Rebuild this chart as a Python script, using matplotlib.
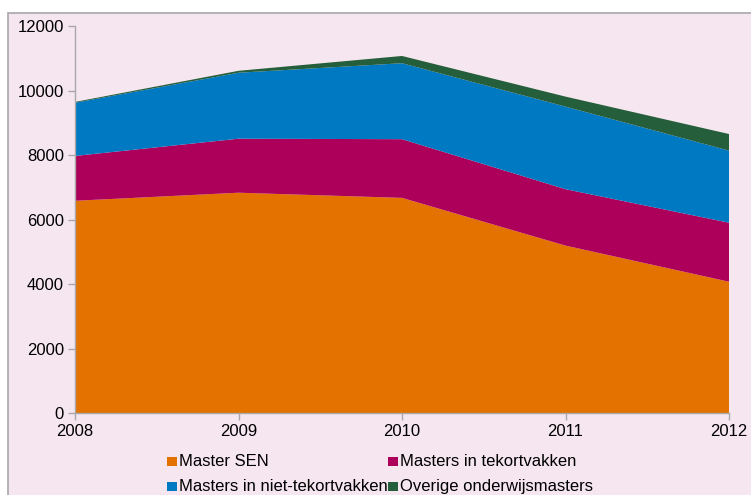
import matplotlib
matplotlib.use("Agg")
import matplotlib.pyplot as plt
from matplotlib.patches import Rectangle

plt.rcParams['font.family'] = ['Liberation Sans', 'DejaVu Sans']

# Data
years = [2008, 2009, 2010, 2011, 2012]
series_names = ["Master SEN", "Masters in tekortvakken",
                "Masters in niet-tekortvakken", "Overige onderwijsmasters"]
master_sen = [6590, 6840, 6680, 5200, 4080]
masters_tekort = [1390, 1675, 1820, 1750, 1830]
masters_niet_tekort = [1650, 2045, 2355, 2560, 2235]
overige = [25, 60, 225, 310, 515]
y_ticks = [0, 2000, 4000, 6000, 8000, 10000, 12000]

colors = ["#E37200", "#AD005B", "#0079C3", "#255E3A"]
bg = "#F6E6F0"
grey = "#A8A8A8"

W, H = 751, 495
fig = plt.figure(figsize=(W / 100, H / 100), dpi=100, facecolor="white")

# Chart area panel with grey border
fig.patches.append(Rectangle((8.3 / W, -0.2), 1.3, 1.2 - 13 / H,
                             transform=fig.transFigure, facecolor=bg,
                             edgecolor=grey, linewidth=1.2, zorder=-10))

ax = fig.add_axes([75 / W, 1 - 413.3 / H, (729 - 75) / W, (413.3 - 26.3) / H])
ax.set_facecolor("none")
ax.set_zorder(1)

ax.stackplot(years, master_sen, masters_tekort, masters_niet_tekort, overige,
             colors=colors, linewidth=0)

ax.set_xlim(years[0], years[-1])
ax.set_ylim(y_ticks[0], y_ticks[-1])
ax.set_xticks(years)
ax.set_xticklabels([str(y) for y in years], fontsize=12)
ax.set_yticks(y_ticks)
ax.set_yticklabels([str(t) for t in y_ticks], fontsize=12)

for s in ["top", "right"]:
    ax.spines[s].set_visible(False)
for s in ["left", "bottom"]:
    ax.spines[s].set_color(grey)
    ax.spines[s].set_linewidth(1.0)
ax.tick_params(axis="both", colors=grey, labelcolor="black",
               length=5, width=1.0, direction="out")
ax.tick_params(axis="y", pad=3)
ax.tick_params(axis="x", pad=3)

# Legend, two entries per row
marker_x = [167, 388]
row_y = [461.5, 486.5]
sq = 9.5
for i, name in enumerate(series_names):
    mx = marker_x[i % 2]
    ry = row_y[i // 2]
    fig.patches.append(Rectangle((mx / W, 1 - (ry + sq / 2) / H), sq / W, sq / H,
                                 transform=fig.transFigure, facecolor=colors[i],
                                 edgecolor="none", zorder=3))
    fig.text((mx + sq + 2.5) / W, 1 - ry / H, name, fontsize=12,
             ha="left", va="center", color="black")

fig.savefig("out.png", dpi=100, facecolor="white")
